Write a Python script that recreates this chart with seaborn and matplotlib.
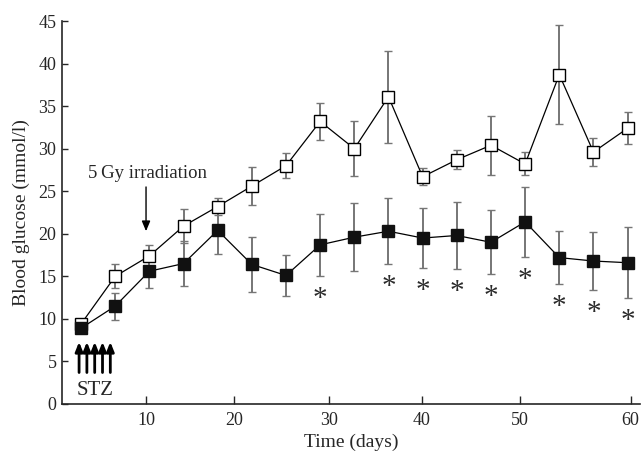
import matplotlib
matplotlib.use("Agg")
import matplotlib.pyplot as plt
import seaborn as sns
import numpy as np

# ---- data ----
days = [3, 6.5, 10, 13.5, 17, 20.5, 24, 27.5, 31, 34.5, 38, 41.5, 45, 48.5, 52, 55.5, 59]
open_mean = [9.4, 15.0, 17.4, 20.9, 23.2, 25.6, 28.0, 33.2, 30.0, 36.1, 26.7, 28.7, 30.4, 28.2, 38.7, 29.6, 32.4]
open_sd = [0.5, 1.4, 1.3, 2.0, 1.0, 2.2, 1.5, 2.2, 3.2, 5.4, 1.0, 1.1, 3.45, 1.35, 5.8, 1.65, 1.85]
filled_mean = [8.9, 11.5, 15.6, 16.5, 20.4, 16.4, 15.1, 18.7, 19.6, 20.3, 19.5, 19.8, 19.0, 21.4, 17.2, 16.8, 16.6]
filled_sd = [0.5, 1.6, 2.0, 2.6, 2.8, 3.2, 2.45, 3.65, 4.0, 3.9, 3.5, 3.9, 3.75, 4.1, 3.15, 3.45, 4.15]
significant = [False] * 7 + [True, False, True, True, True, True, True, True, True, True]

# tick positions on the (unevenly drawn) time axis of the reference
tick_pos = [9.66, 18.68, 28.41, 37.94, 47.98, 59.30]
tick_labels = ["10", "20", "30", "40", "50", "60"]
y_ticks = [0, 5, 10, 15, 20, 25, 30, 35, 40, 45]

stz_days = [2.8, 3.6, 4.4, 5.2, 6.0]
irradiation_day = 9.66

sns.set_style("ticks")
plt.rcParams["font.family"] = ["Liberation Serif", "DejaVu Serif"]

fig = plt.figure(figsize=(6.41, 4.57), dpi=100)
ax = fig.add_axes([62 / 641, (457 - 404) / 457, (640 - 62) / 641, (404 - 21) / 457])

# error bars
for mean, sd, z in [(filled_mean, filled_sd, 2), (open_mean, open_sd, 3)]:
    eb = ax.errorbar(days, mean, yerr=sd, fmt="none", ecolor="#767676",
                     elinewidth=1.4, capsize=2.8, capthick=1.0, zorder=z)
    for cl in eb[1]:
        cl.set_color("#222222")

sns.lineplot(x=days, y=open_mean, ax=ax, color="black", lw=0.9, marker="s",
             markersize=9, markerfacecolor="white", markeredgecolor="black",
             markeredgewidth=1.0, errorbar=None, zorder=4)
sns.lineplot(x=days, y=filled_mean, ax=ax, color="black", lw=0.9, marker="s",
             markersize=9, markerfacecolor="#111111", markeredgecolor="#111111",
             markeredgewidth=1.0, errorbar=None, zorder=5)

# significance asterisks
for d, m, s, sig in zip(days, filled_mean, filled_sd, significant):
    if sig:
        ax.text(d, m - s - 2.7, "*", ha="center", va="center", fontsize=21,
                color="#2a2a2a")

# irradiation arrow
ax.annotate("", xy=(irradiation_day, 20.3), xytext=(irradiation_day, 25.5),
            arrowprops=dict(arrowstyle="-|>,head_length=0.6,head_width=0.25",
                            color="black", lw=1.0, shrinkA=0, shrinkB=0))
ax.text(irradiation_day + 0.1, 27.1, "5\u2009Gy irradiation", ha="center",
        va="center", fontsize=13.5)

# STZ arrows
for d in stz_days:
    ax.annotate("", xy=(d, 7.3), xytext=(d, 3.7),
                arrowprops=dict(arrowstyle="-|>,head_length=0.55,head_width=0.22",
                                color="black", lw=2.0, shrinkA=0, shrinkB=0))
ax.text(4.43, 1.6, "STZ", ha="center", va="center", fontsize=15)

ax.set_xlim(1.05, 60.27)
ax.set_ylim(0, 45)
ax.set_xticks(tick_pos)
ax.set_xticklabels(tick_labels)
ax.set_yticks(y_ticks)
ax.tick_params(axis="x", direction="in", length=6, width=1, labelsize=13, pad=6)
ax.tick_params(axis="y", direction="in", length=4, width=1, labelsize=13, pad=4)
for sp in ["top", "right"]:
    ax.spines[sp].set_visible(False)
for sp in ["left", "bottom"]:
    ax.spines[sp].set_linewidth(1.2)
ax.set_xlabel("Time (days)", fontsize=14, labelpad=3)
ax.set_ylabel("Blood glucose (mmol/l)", fontsize=14, labelpad=6)

fig.savefig("out.png", dpi=100)
